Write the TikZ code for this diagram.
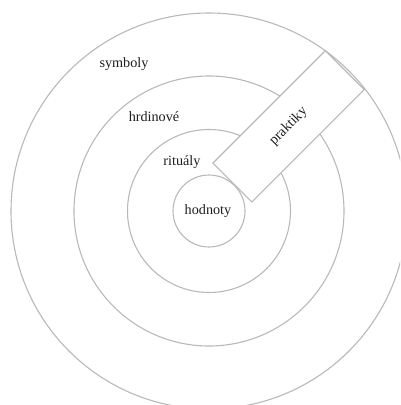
\documentclass[tikz,border=0pt]{standalone}
\usepackage{fontspec}
\setmainfont{Liberation Serif}
\definecolor{ringgray}{RGB}{185,185,185}
\definecolor{txt}{RGB}{30,30,30}
\begin{document}
\begin{tikzpicture}[x=1pt,y=-1pt,
  ring/.style={draw=ringgray,line width=1.1pt},
  lbl/.style={text=txt,font=\fontsize{14.2}{16}\selectfont,inner sep=0pt},
  band/.style={draw=ringgray,line width=1.1pt,fill=white,rotate=45,
    minimum width=159pt,minimum height=55pt,inner sep=0pt,
    text=txt,font=\fontsize{14.2}{16}\selectfont}]
\useasboundingbox (0,0) rectangle (400,405);
\clip (0,0) rectangle (400,405);
\coordinate (c) at (209,211);
\draw[ring] (c) circle[radius=198pt];
\draw[ring] (c) circle[radius=135pt];
\draw[ring] (c) circle[radius=81.5pt];
\draw[ring] (c) circle[radius=36pt];
\node[band] (prak) at (288.6,126.3) {praktiky};
\node[lbl] (sym) at (124,64) {symboly};
\node[lbl] (hrd) at (154,117) {hrdinové};
\node[lbl] (rit) at (182,162) {rituály};
\node[lbl] (hod) at (208,211) {hodnoty};
\end{tikzpicture}
\end{document}
